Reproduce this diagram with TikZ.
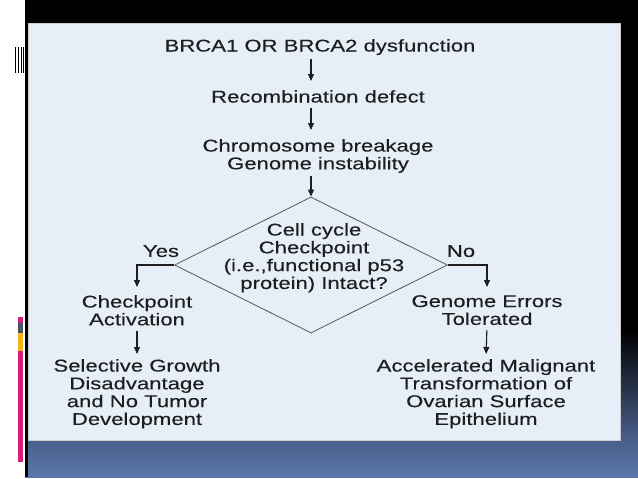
\documentclass[tikz,border=0pt]{standalone}
\usepackage{fontspec}
\setmainfont{Liberation Sans}[FakeStretch=1.3,FakeBold=0.25]
\usetikzlibrary{arrows.meta,shapes.geometric}
\definecolor{panel}{HTML}{E6EEF7}
\definecolor{ink}{HTML}{1E1E1E}
\definecolor{navy}{HTML}{4A5F8A}
\definecolor{navylight}{HTML}{5A76AA}
\definecolor{pinkbar}{HTML}{D81B77}
\definecolor{greybar}{HTML}{4A5360}
\definecolor{yellowbar}{HTML}{F2B418}
\begin{document}
\begin{tikzpicture}[x=1pt,y=-1pt,
  txt/.style={font=\fontsize{17}{17.8}\selectfont, text=ink, align=center, inner sep=0pt, anchor=north},
  arr/.style={draw=ink, line width=1.1pt, -{Triangle[width=6pt,length=7pt]}},
  dia/.style={diamond, draw=ink!75, line width=0.8pt, minimum width=273pt, minimum height=136pt, inner sep=0pt}]
\useasboundingbox (0,0) rectangle (638,479);
% background
\fill[white] (0,0) rectangle (638,479);
\fill[black] (25,0) rectangle (638,330);
\shade[top color=black, bottom color=navy] (25,330) rectangle (638,440);
\shade[top color=navy, bottom color=navylight] (25,440) rectangle (638,477);
\fill[black] (25,0) rectangle (27.5,477);
% panel
\filldraw[fill=panel, draw=gray!40, line width=0.8pt] (28,23) rectangle (620.5,440);
% left decorations
\foreach \xx in {15,18,20.5,23} \fill[black] (\xx,47) rectangle ++(1.3,26);
\fill[pinkbar] (18,317) rectangle (23,323);
\fill[greybar] (18,323) rectangle (23,333);
\fill[yellowbar] (18,333) rectangle (23,351);
\fill[pinkbar] (18,351) rectangle (23,462);
% nodes
\node[txt] (t1) at (320,39) {BRCA1 OR BRCA2 dysfunction};
\node[txt] (t2) at (318,90) {Recombination defect};
\node[txt] (t3) at (318,139) {Chromosome breakage\\Genome instability};
\node[dia] (d) at (311,265) {};
\node[txt] (dt) at (314,223) {Cell cycle\\Checkpoint\\(i.e.,functional p53\\protein) Intact?};
\node[txt] (yes) at (161,245) {Yes};
\node[txt] (no) at (461,245) {No};
\node[txt] (chk) at (137,295) {Checkpoint\\Activation};
\node[txt] (gen) at (487,295) {Genome Errors\\Tolerated};
\node[txt] (sel) at (137,359) {Selective Growth\\Disadvantage\\and No Tumor\\Development};
\node[txt] (acc) at (486,359) {Accelerated Malignant\\Transformation of\\Ovarian Surface\\Epithelium};
% connectors
\draw[arr, shorten <=4pt, shorten >=9pt] (t1.south -| d.north) -- (t2.north -| d.north);
\draw[arr, shorten <=5pt, shorten >=9pt] (t2.south -| d.north) -- (t3.north -| d.north);
\draw[arr, shorten <=3pt] (t3.south -| d.north) -- (d.north);
\draw[arr, shorten >=8pt] (d.west) -| (chk.north);
\draw[arr, shorten >=8pt] (d.east) -| (gen.north);
\draw[arr, shorten <=5pt, shorten >=5pt] (chk.south) -- (sel.north);
\draw[arr, shorten <=5pt, shorten >=5pt] (gen.south) -- (acc.north);
\end{tikzpicture}
\end{document}
